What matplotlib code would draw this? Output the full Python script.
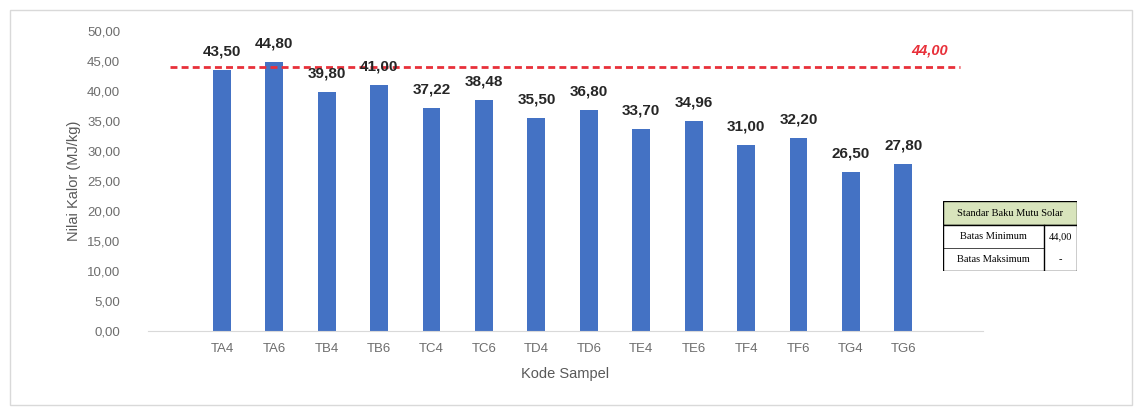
import numpy as np
import matplotlib.pyplot as plt
from matplotlib.patches import Rectangle

kode = ['TA4', 'TA6', 'TB4', 'TB6', 'TC4', 'TC6', 'TD4', 'TD6',
        'TE4', 'TE6', 'TF4', 'TF6', 'TG4', 'TG6']
nilai = [43.50, 44.80, 39.80, 41.00, 37.22, 38.48, 35.50, 36.80,
         33.70, 34.96, 31.00, 32.20, 26.50, 27.80]
batas_min = 44.00
yticks = np.arange(0, 55, 5)

plt.rcParams['font.family'] = ['Liberation Sans', 'DejaVu Sans']

def fmt(v):
    return '{:.2f}'.format(v).replace('.', ',')

fig = plt.figure(figsize=(11.34, 4.07), dpi=100)
fig.patches.append(Rectangle((10/1134, 2/407), 1122/1134, 395/407, transform=fig.transFigure,
                             fill=False, edgecolor='#d9d9d9', linewidth=1))

ax = fig.add_axes([148/1134, 1 - 331/407, 835/1134, 300/407])
x = np.arange(len(kode))
ax.bar(x, nilai, width=0.34, color='#4472c4', zorder=2)
ax.set_xlim(-1.41, 14.52)
ax.set_ylim(0, 50)
ax.set_yticks(yticks)
ax.set_yticklabels([fmt(v) for v in yticks])
ax.set_xticks(x)
ax.set_xticklabels(kode)
ax.tick_params(length=0, labelsize=9.5, colors='#6d6d6d')
ax.tick_params(axis='y', pad=20)
ax.tick_params(axis='x', pad=9)
for s in ['top', 'right', 'left']:
    ax.spines[s].set_visible(False)
ax.spines['bottom'].set_color('#d9d9d9')
ax.set_xlabel('Kode Sampel', fontsize=10.5, color='#595959', labelpad=8)
ax.set_ylabel('Nilai Kalor (MJ/kg)', fontsize=10.5, color='#595959', labelpad=4)

for xi, v in zip(x, nilai):
    ax.text(xi, v + 1.9, fmt(v), ha='center', va='bottom', fontsize=11,
            fontweight='bold', color='#262626', zorder=4)

ax.plot([-0.99, 14.08], [batas_min, batas_min], color='#e8303a', linestyle='--',
        linewidth=2, dashes=(2.5, 1.5), clip_on=False, zorder=3)
ax.text(13.5, batas_min + 1.6, fmt(batas_min), ha='center', va='bottom', fontsize=10.5,
        fontweight='bold', style='italic', color='#e8303a')

# tabel standar
tab = fig.add_axes([943/1134, 1 - 271/407, 134/1134, 70/407])
tab.axis('off')
tab.set_xlim(0, 134)
tab.set_ylim(70, 0)
tab.add_patch(Rectangle((0, 0), 134, 24, facecolor='#d8e4bc', edgecolor='black', linewidth=1))
tab.add_patch(Rectangle((0, 24), 134, 46, facecolor='white', edgecolor='black', linewidth=1))
tab.plot([101, 101], [24, 70], color='black', linewidth=1)
tab.plot([0, 101], [47, 47], color='black', linewidth=0.5)
tab.text(67, 12, 'Standar Baku Mutu Solar', ha='center', va='center', fontsize=7.5,
         family='Liberation Serif')
tab.text(50, 35.5, 'Batas Minimum', ha='center', va='center', fontsize=7.5, family='Liberation Serif')
tab.text(50, 58.5, 'Batas Maksimum', ha='center', va='center', fontsize=7.5, family='Liberation Serif')
tab.text(117, 35.5, fmt(batas_min), ha='center', va='center', fontsize=7.5, family='Liberation Serif')
tab.text(117, 58.5, '-', ha='center', va='center', fontsize=7.5, family='Liberation Serif')

plt.savefig('out.png', dpi=100)
